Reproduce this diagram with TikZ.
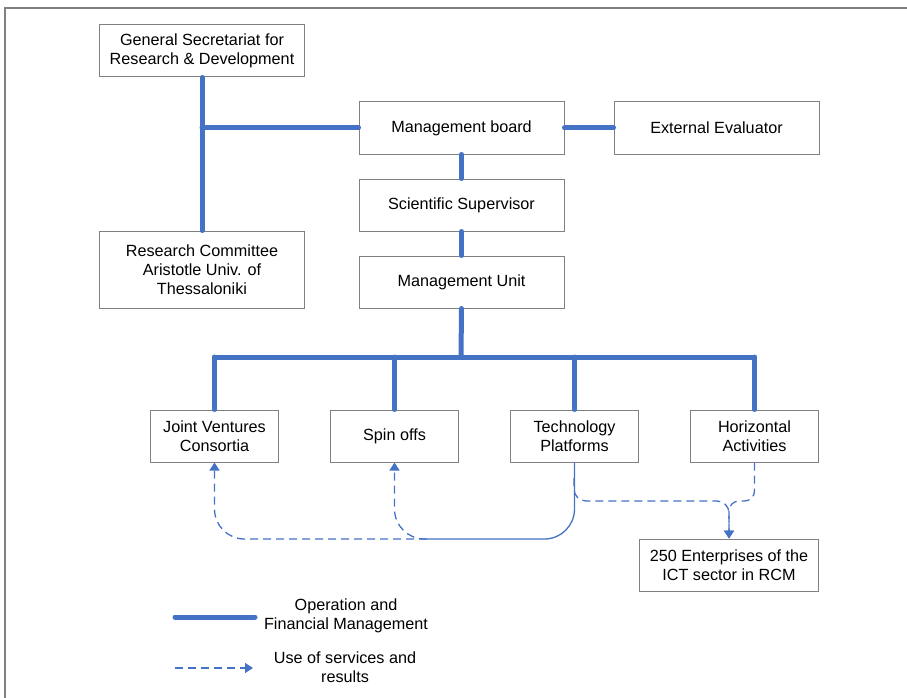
\documentclass[tikz,border=0pt]{standalone}
\usepackage{fontspec}
\setmainfont{Liberation Sans}
\usepackage{tikz}
\usetikzlibrary{arrows.meta,positioning}
\definecolor{opblue}{RGB}{68,114,196}
\definecolor{boxgray}{RGB}{128,128,128}

\begin{document}
\begin{tikzpicture}[x=1pt,y=-1pt,>={Triangle[width=10pt,length=8pt]},
                    font=\fontsize{16.2}{19}\selectfont]
  \tikzstyle{unit}=[draw=boxgray,line width=1pt,fill=white,align=center,
                    minimum width=205pt,minimum height=52pt,inner sep=2pt]
  \tikzstyle{activity}=[unit,minimum width=128pt]
  \tikzstyle{ops}=[draw=opblue,line width=5pt,line cap=round]
  \tikzstyle{link}=[draw=opblue,line width=1.3pt]
  \tikzstyle{svc}=[link,dash pattern=on 8pt off 5pt,->]

  \useasboundingbox (0,0) rectangle (907,698);
  \draw[boxgray,line width=1.5pt] (5,698) -- (5,8) -- (907,8);

  \node[unit]        (gs) at (202,51)         {General Secretariat for\\Research \& Development};
  \node[unit,minimum height=77pt] (rc) [below=153pt of gs] {Research Committee\\Aristotle Univ. of\\Thessaloniki};
  \node[unit]        (mb) at (461.5,128)      {Management board};
  \node[unit]        (ee) [right=49pt of mb]  {External Evaluator};
  \node[unit]        (ss) [below=24pt of mb]  {Scientific Supervisor};
  \node[unit]        (mu) [below=24pt of ss]  {Management Unit};
  \node[activity]    (jv) at (214.5,436)      {Joint Ventures\\Consortia};
  \node[activity]    (so) [right=51pt of jv]  {Spin offs};
  \node[activity]    (tp) [right=51pt of so]  {Technology\\Platforms};
  \node[activity]    (ha) [right=51pt of tp]  {Horizontal\\Activities};
  \node[unit,minimum width=179pt] (ent) [below=76pt of ha.south east,anchor=north east]
                                              {250 Enterprises of the\\ICT sector in RCM};

  \coordinate (bus) at (461,357);
  \draw[ops] (gs.south) -- (rc.north);
  \draw[ops] (gs.south |- mb.west) -- (mb.west);
  \draw[ops] (mb.east) -- (ee.west);
  \draw[ops] (mb.south) -- (ss.north);
  \draw[ops] (ss.south) -- (mu.north);
  \draw[ops] (mu.south) -- (bus);
  \draw[ops] (jv.north |- bus) -- (ha.north |- bus);
  \foreach \n in {jv,so,tp,ha}
    \draw[ops] (\n.north |- bus) -- (\n.north);

  \coordinate (fork) at (427,539);
  \coordinate (tpb)  at (574,478);
  \coordinate (join) at (729,501);
  \draw[link,rounded corners=30pt] (tp.south) |- (fork);
  \draw[svc,rounded corners=30pt] (fork) -| (so.south);
  \draw[svc,rounded corners=30pt] (fork) -| (jv.south);
  \draw[svc,rounded corners=12pt] (tpb) |- (join) -- (ent.north);
  \draw[svc,rounded corners=10pt] (ha.south) |- (join) -- (ent.north);

  \coordinate (opsA) at (175,617);
  \coordinate (opsB) at (255,617);
  \coordinate (svcA) at (175,668);
  \coordinate (svcB) at (253,668);
  \draw[ops] (opsA) -- (opsB);
  \draw[svc] (svcA) -- (svcB);
  \node (opslbl) at (346,616) [align=center] {Operation and\\Financial Management};
  \node (svclbl) at (345,667) [align=center] {Use of services and\\results};
\end{tikzpicture}
\end{document}
